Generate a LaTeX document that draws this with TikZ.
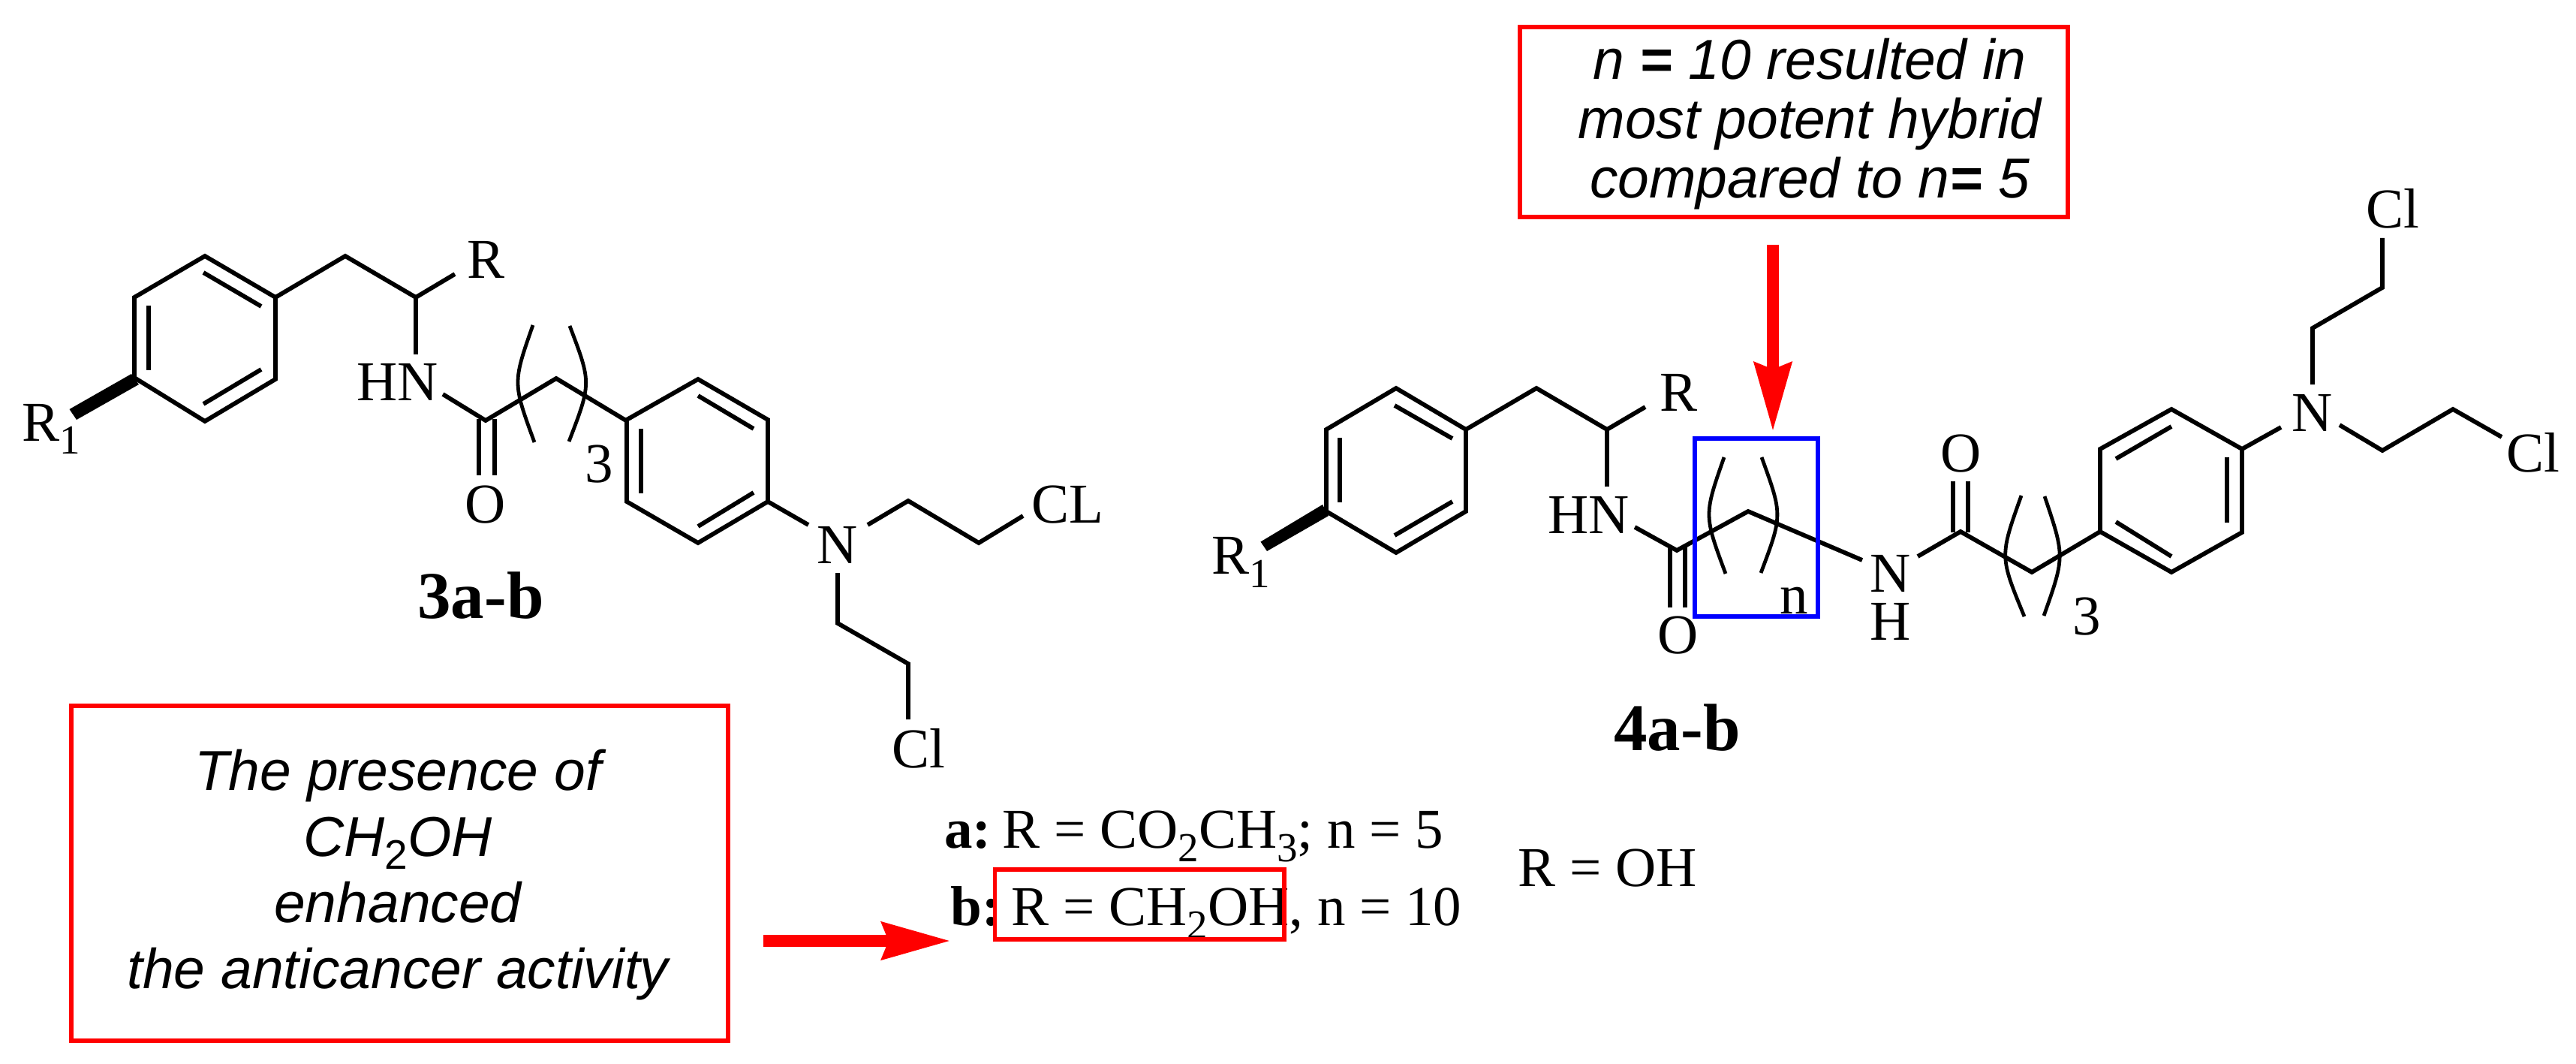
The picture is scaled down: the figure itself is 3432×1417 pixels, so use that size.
\documentclass[tikz,border=0pt]{standalone}
\usepackage{fontspec}
\setmainfont{Liberation Serif}
\newfontfamily\notefont{Liberation Sans}
\usetikzlibrary{arrows.meta}

\newcommand{\lowidx}[2][9pt]{\raisebox{-#1}{\fontsize{27.5}{27.5}\selectfont #2}}
\frenchspacing

\tikzset{
  bond/.style={line width=2.9pt},
  arcbond/.style={line width=2.4pt},
  wedgebond/.style={fill=black,draw=none},
  lbl/.style={inner sep=0pt,font=\fontsize{37.5}{44}\selectfont},
  cpdlbl/.style={inner sep=0pt,font=\fontsize{44.5}{50}\selectfont\bfseries},
  notelbl/.style={inner sep=0pt,align=center,font=\notefont\itshape\fontsize{37.5}{44}\selectfont},
  redbox/.style={draw=red,line width=2.6pt},
  bluebox/.style={draw=blue,line width=2.6pt},
  redarrow/.style={draw=red,line width=8.2pt,-{Stealth[length=45.5pt,width=24pt,inset=4pt,fill=red]}}
}

\begin{document}
\begin{tikzpicture}[x=0.5pt,y=0.5pt,yscale=-1,xscale=1]
\useasboundingbox (0,0) rectangle (3432,1417);

%Left compound, first ring
\draw [bond] (273,341) -- (367,396) -- (367,505) -- (273,561) -- (179,503) -- (179,396) -- cycle ;
\draw [bond] (198,407) -- (198,493) ;
\draw [bond] (271,363) -- (348,408) ;
\draw [bond] (348,492) -- (271,538) ;
\fill [wedgebond] (175,498) -- (185,512) -- (102,559) -- (92.5,545) -- cycle ;
%Left compound, chain
\draw [bond] (367,396) -- (460,341) -- (554,396) -- (606,365) ;
\draw [bond] (554,396) -- (554,472) ;
\draw [bond] (590,525) -- (647,560) -- (741,504) -- (834,560) ;
\draw [bond] (638,558) -- (638,633) ;
\draw [bond] (659,558) -- (659,633) ;
\draw [arcbond] (710,433) .. controls (683,510) .. (712,589) ;
\draw [arcbond] (759,434) .. controls (788,510) .. (758,588) ;
%Left compound, second ring
\draw [bond] (835,559) -- (930,505) -- (1023,559) -- (1023,668) -- (930,723) -- (835,668) -- cycle ;
\draw [bond] (854,571) -- (854,657) ;
\draw [bond] (930,527) -- (1004,571) ;
\draw [bond] (930,701) -- (1004,656) ;
\draw [bond] (1023,668) -- (1077,699) ;
\draw [bond] (1156,699) -- (1210,667) -- (1304,723) -- (1363,687) ;
\draw [bond] (1116,763) -- (1116,830) -- (1210,884) -- (1210,958) ;

%Right compound, first ring
\draw [bond] (1860,517) -- (1953,572) -- (1953,681) -- (1860,736) -- (1767,681) -- (1767,572) -- cycle ;
\draw [bond] (1785,583) -- (1785,669) ;
\draw [bond] (1858,540) -- (1935,584) ;
\draw [bond] (1858,713) -- (1935,668) ;
\fill [wedgebond] (1762,672) -- (1770,687) -- (1688,734) -- (1679.5,721.5) -- cycle ;
%Right compound, chain
\draw [bond] (1953,572) -- (2047,517) -- (2141,572) -- (2192,542) ;
\draw [bond] (2141,572) -- (2141,648) ;
\draw [bond] (2178,702) -- (2234,733) -- (2329,681) -- (2481,746) ;
\draw [bond] (2225,729) -- (2225,809) ;
\draw [bond] (2245,729) -- (2245,809) ;
\draw [arcbond] (2297,609) .. controls (2270,686) .. (2299,764) ;
\draw [arcbond] (2347,609) .. controls (2375,686) .. (2346,763) ;
\draw [bond] (2555,741) -- (2612,708) -- (2707,762) -- (2798,708) ;
\draw [bond] (2602,709) -- (2602,641) ;
\draw [bond] (2622,709) -- (2622,641) ;
\draw [arcbond] (2693,660) .. controls (2664,741) .. (2697,821) ;
\draw [arcbond] (2724,661) .. controls (2751,741) .. (2723,820) ;
%Right compound, second ring
\draw [bond] (2798,598) -- (2893,545) -- (2987,598) -- (2987,709) -- (2893,762) -- (2798,708) -- cycle ;
\draw [bond] (2967,609) -- (2967,696) ;
\draw [bond] (2819,611) -- (2893,568) ;
\draw [bond] (2819,695) -- (2893,741) ;
\draw [bond] (2987,598) -- (3039,569) ;
\draw [bond] (3081,512) -- (3081,437) -- (3174,383) -- (3174,317) ;
\draw [bond] (3117,566) -- (3174,600) -- (3268,545) -- (3333,582) ;

% Text Node
\node (lblRa) at (622,371) [lbl,anchor=base west] {R};
\node (lblHNa) at (475,533) [lbl,anchor=base west] {HN};
\node (lblOa) at (647,696) [lbl,anchor=base] {O};
\node (lblThreeA) at (798,642) [lbl,anchor=base] {3};
\node (lblRoneA) at (29,587) [lbl,anchor=base west] {R\lowidx{1}};
\node (lblNa) at (1116,750) [lbl,anchor=base] {N};
\node (lblCLa) at (1374,696) [lbl,anchor=base west] {CL};
\node (lblCla) at (1188,1022) [lbl,anchor=base west] {Cl};
\node (cpdA) at (556,823) [cpdlbl,anchor=base west] {3a-b};
% Text Node
\node (lblRb) at (2211,547) [lbl,anchor=base west] {R};
\node (lblHNb) at (2062,710) [lbl,anchor=base west] {HN};
\node (lblOb) at (2236,870) [lbl,anchor=base] {O};
\node (lblIdx) at (2371,817) [lbl,anchor=base west] {n};
\node (lblNHb) at (2519,796) [lbl,align=center,font=\fontsize{37.5}{32}\selectfont] {N\\H};
\node (lblOc) at (2613,628) [lbl,anchor=base] {O};
\node (lblThreeB) at (2780,845) [lbl,anchor=base] {3};
\node (lblRoneB) at (1614,764) [lbl,anchor=base west] {R\lowidx{1}};
\node (lblNc) at (3081,574) [lbl,anchor=base] {N};
\node (lblClb) at (3152,304) [lbl,anchor=base west] {Cl};
\node (lblClc) at (3339,628) [lbl,anchor=base west] {Cl};
\node (cpdB) at (2150,999) [cpdlbl,anchor=base west] {4a-b};
% Text Node
\node (lineA) at (1258,1129) [lbl,anchor=base west] {\textbf{a:}\hspace{-2pt} R = CO\lowidx{2}CH\lowidx{3}; n = 5};
\node (lineB) at (1266,1232) [lbl,anchor=base west] {\textbf{b:}\hspace{-2pt} R = CH\lowidx{2}OH, n = 10};
\node (lineC) at (2022,1180) [lbl,anchor=base west] {R = OH};
% Text Node
\node (noteA) at (530,1165) [notelbl] {The presence of\\CH\lowidx[8.5pt]{\notefont\upshape 2}OH\\enhanced\\the anticancer activity};
\node (noteB) at (2411,165) [notelbl,font=\notefont\itshape\fontsize{37.5}{39.5}\selectfont] {n \textbf{=} 10 resulted in\\most potent hybrid\\compared to n\textbf{=} 5};

%Boxes
\draw [redbox] (95,940) rectangle (970,1386) ;
\draw [redbox] (2025,36) rectangle (2755,289) ;
\draw [redbox] (1325.5,1158) rectangle (1711,1251) ;
\draw [bluebox] (2258,584) rectangle (2422,821) ;

%Arrows
\coordinate (arrowDownStart) at (2362,326);
\coordinate (arrowDownEnd) at (2362,575);
\coordinate (arrowRightStart) at (1017,1253);
\coordinate (arrowRightEnd) at (1267,1253);
\draw [redarrow] (arrowDownStart) -- (arrowDownEnd) ;
\draw [redarrow] (arrowRightStart) -- (arrowRightEnd) ;

\end{tikzpicture}
\end{document}
